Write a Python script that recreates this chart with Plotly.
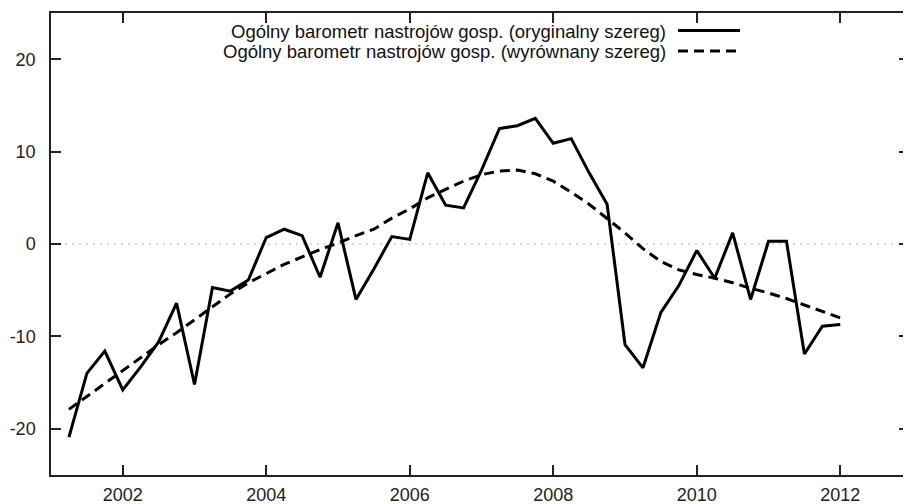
import plotly.graph_objects as go

# quarterly time axis (decimal years)
t = [2001.25 + 0.25 * k for k in range(44)]

original = [-20.9, -14.0, -11.6, -15.8, -13.3, -10.6, -6.4, -15.2,
            -4.7, -5.1, -3.9, 0.7, 1.6, 0.9, -3.6, 2.3,
            -6.0, -2.7, 0.8, 0.5, 7.7, 4.2, 3.9, 8.0,
            12.5, 12.8, 13.6, 10.9, 11.4, 7.7, 4.3, -10.9,
            -13.4, -7.4, -4.5, -0.7, -3.7, 1.2, -6.0, 0.3,
            0.3, -11.9, -8.9, -8.7]

smoothed = [-17.9, -16.5, -15.1, -13.7, -12.3, -10.9, -9.6, -8.2,
            -6.8, -5.4, -4.2, -3.2, -2.2, -1.4, -0.6, 0.1,
            0.9, 1.6, 2.8, 3.8, 5.0, 5.9, 6.8, 7.5,
            7.9, 8.0, 7.6, 6.8, 5.6, 4.3, 2.8, 1.2,
            -0.5, -1.9, -2.8, -3.3, -3.7, -4.2, -4.8, -5.3,
            -5.9, -6.6, -7.3, -8.0]

x_ticks = [2002, 2004, 2006, 2008, 2010, 2012]
y_ticks = [-20, -10, 0, 10, 20]
y_ticktext = ["-20", "-10", "0", "10", "20"]

names = ["Ogólny barometr nastrojów gosp. (oryginalny szereg)",
         "Ogólny barometr nastrojów gosp. (wyrównany szereg)"]

FONT = "Liberation Sans, Arial, Helvetica, sans-serif"

fig = go.Figure()
fig.add_trace(go.Scatter(x=t, y=original, mode="lines", name=names[0],
                         line=dict(color="black", width=3), showlegend=False))
fig.add_trace(go.Scatter(x=t, y=smoothed, mode="lines", name=names[1],
                         line=dict(color="black", width=3, dash="10px,6px"),
                         showlegend=False))

# dotted zero line
fig.add_shape(type="line", xref="paper", x0=0, x1=1, yref="y", y0=0, y1=0,
              line=dict(color="#b0b0b0", width=1, dash="2px,5px"), layer="below")

# legend (gnuplot style: text right-aligned, sample to the right)
leg_y_text = [0.9610, 0.9156]
leg_y_line = [0.9621, 0.9177]
dashes = ["solid", "10px,6px"]
for i in range(2):
    fig.add_annotation(xref="paper", yref="paper", x=0.7242, y=leg_y_text[i],
                       text=names[i], showarrow=False, xanchor="right",
                       yanchor="middle", font=dict(family=FONT, size=18.5, color="#111"))
    fig.add_shape(type="line", xref="paper", yref="paper", x0=0.7359, x1=0.8087,
                  y0=leg_y_line[i], y1=leg_y_line[i],
                  line=dict(color="black", width=3, dash=dashes[i]))

fig.update_layout(
    width=904, height=504,
    margin=dict(l=51, r=1, t=13, b=29, autoexpand=False),
    paper_bgcolor="white", plot_bgcolor="white",
    font=dict(family=FONT, size=18, color="#222"),
    xaxis=dict(range=[2001, 2012.874], tickvals=x_ticks,
               ticktext=[str(v) for v in x_ticks], automargin=False,
               tickfont=dict(size=18),
               ticks="inside", ticklen=10, tickwidth=1.5, tickcolor="#222",
               showline=True, linecolor="#222", linewidth=1.5, mirror="ticks",
               showgrid=False, zeroline=False, ticklabelstandoff=3),
    yaxis=dict(range=[-25, 25], tickvals=y_ticks, ticktext=y_ticktext,
               automargin=False,
               ticks="inside", ticklen=10, tickwidth=1.5, tickcolor="#222",
               showline=True, linecolor="#222", linewidth=1.5, mirror=False,
               showgrid=False, zeroline=False, ticklabelstandoff=10),
    yaxis2=dict(range=[-25, 25], tickvals=y_ticks, overlaying="y", side="right",
                automargin=False,
                ticks="inside", ticklen=4, tickwidth=1.5, tickcolor="#222",
                showticklabels=False, showline=False, showgrid=False, zeroline=False),
)
# invisible trace to activate yaxis2
fig.add_trace(go.Scatter(x=[2001], y=[0], yaxis="y2", mode="markers",
                         marker=dict(opacity=0), showlegend=False, hoverinfo="skip"))

fig.write_html("out.html", config={"displayModeBar": False},
               post_script="document.body.style.margin='0';document.body.style.overflow='hidden';")
